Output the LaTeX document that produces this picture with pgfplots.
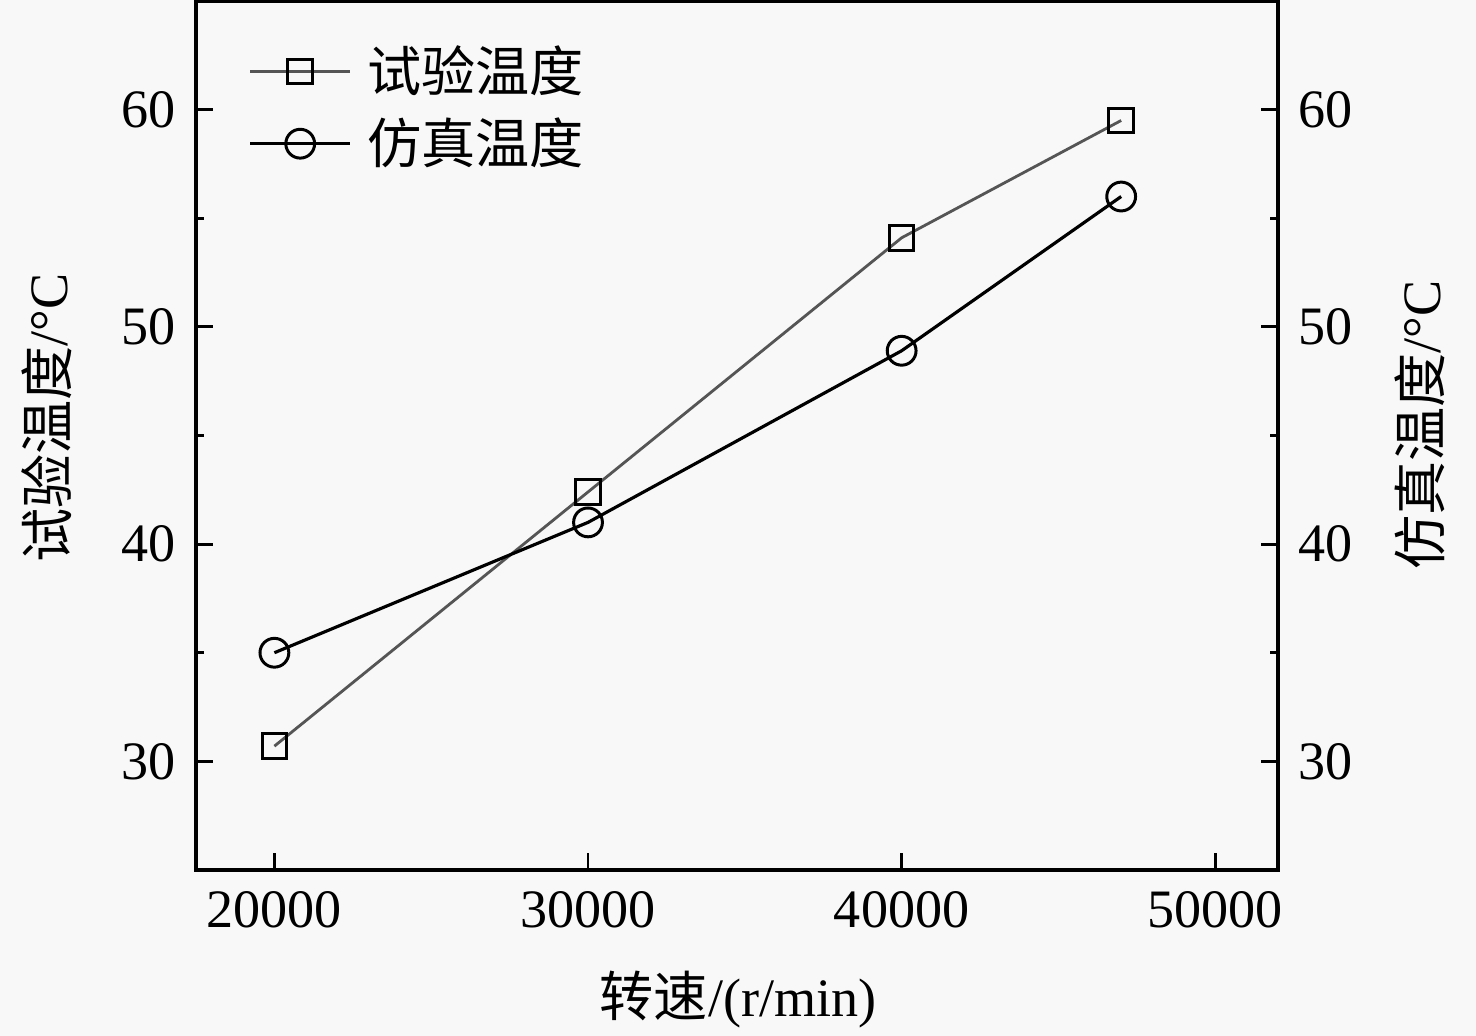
\documentclass[border=0pt]{standalone}
\usepackage{fontspec}
\setmainfont{Liberation Serif}
\newfontfamily\cjk{Noto Sans CJK SC}
\usepackage{pgfplots}
\pgfplotsset{compat=1.18}
\usetikzlibrary{calc,backgrounds}
\definecolor{testgray}{HTML}{555555}
\definecolor{bg}{HTML}{F8F8F8}
\begin{document}
\begin{tikzpicture}
\pgfplotsset{
  common/.style={
    scale only axis, width=108.2mm, height=86.9mm,
    xmin=17500, xmax=52000, ymin=25, ymax=65,
    font=\fontsize{15.4}{18}\selectfont,
    /pgf/number format/assume math mode=true,
    /pgf/number format/1000 sep={},
    scaled x ticks=false,
    ytick={30,40,50,60}, minor ytick={35,45,55},
    xtick={20000,30000,40000,50000},
    tick align=inside,
    major tick length=1.7mm, minor tick length=0.8mm,
    every tick/.style={black, line width=0.8pt},
    axis line style={line width=1pt},
  }
}
\begin{axis}[common,
  xtick pos=bottom, ytick pos=left,
  xticklabel style={yshift=-0.9mm},
  yticklabel style={xshift=-0.8mm},
  xlabel={{\cjk 转速}/(r/min)},
  ylabel={{\cjk 试验温度}/°C},
  xlabel style={at={(axis description cs:0.501,-0.1496)}, anchor=center},
  ylabel style={at={(axis description cs:-0.1377,0.52)}, anchor=center},
  legend cell align=left,
  legend style={at={(axis description cs:0.048,0.953)}, anchor=north west, draw=none, fill=none,
    inner sep=0pt, row sep=1.4mm, column sep=1.2mm, nodes={inner sep=1pt},
    font=\fontsize{15.4}{18}\selectfont\cjk},
  legend image code/.code={\draw[mark repeat=2,mark phase=2,#1] plot coordinates {(0mm,0mm) (5mm,0mm) (10mm,0mm)};},
]
\addplot[testgray, line width=0.8pt, mark=square, mark size=3.5pt,
  mark options={draw=black, fill=white, solid, line width=0.85pt}]
  coordinates {(20000,30.7) (30000,42.4) (40000,54.1) (47000,59.5)};
\addlegendentry{试验温度}
\addplot[black, line width=0.9pt, mark=o, mark size=4.1pt,
  mark options={draw=black, fill=white, solid, line width=0.85pt}]
  coordinates {(20000,35.0) (30000,41.0) (40000,48.9) (47000,56.0)};
\addlegendentry{仿真温度}
\end{axis}
\begin{axis}[common,
  axis x line=none, axis y line*=right, ytick pos=right,
  yticklabel style={xshift=0.8mm},
  ylabel={{\cjk 仿真温度}/°C},
  ylabel style={at={(axis description cs:1.131,0.512)}, anchor=center, rotate=0},
]
\end{axis}
\pgfresetboundingbox
\path ($(current axis.south west)+(-19.6mm,-16.6mm)$) coordinate (bl) rectangle ($(current axis.north east)+(19.8mm,0.1mm)$) coordinate (tr);
\begin{scope}[on background layer]
\fill[bg] (bl) rectangle (tr);
\end{scope}
\end{tikzpicture}
\end{document}
